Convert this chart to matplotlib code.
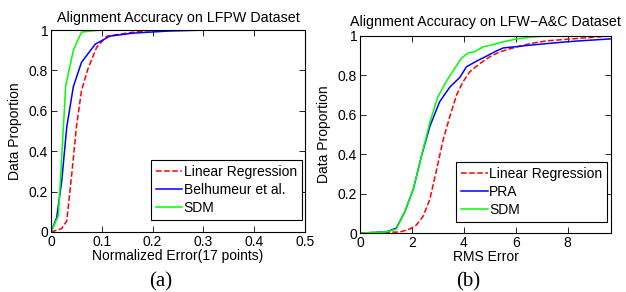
import numpy as np
import matplotlib
matplotlib.use("Agg")
import matplotlib.pyplot as plt

plt.rcParams['font.family'] = ['Liberation Sans', 'DejaVu Sans']
plt.rcParams['font.size'] = 10

# (a) LFPW, normalized error vs proportion
lr_a_x = [0, 0.021, 0.031, 0.041, 0.05, 0.06, 0.073, 0.09, 0.11, 0.149, 0.18, 0.22, 0.5]
lr_a_y = [0, 0.017, 0.055, 0.29, 0.52, 0.70, 0.81, 0.915, 0.97, 0.985, 0.995, 1.0, 1.0]
bel_x = [0, 0.011, 0.021, 0.031, 0.044, 0.06, 0.087, 0.116, 0.162, 0.23, 0.3, 0.5]
bel_y = [0, 0.07, 0.25, 0.52, 0.72, 0.84, 0.93, 0.97, 0.985, 0.995, 1.0, 1.0]
sdm_a_x = [0, 0.0145, 0.029, 0.044, 0.06, 0.097, 0.5]
sdm_a_y = [0, 0.08, 0.725, 0.90, 0.99, 1.0, 1.0]

# (b) LFW-A&C, RMS error vs proportion
lr_b_x = [0, 0.76, 1.53, 1.92, 2.17, 2.43, 2.69, 2.95, 3.2, 3.46, 3.72, 3.97, 4.23,
          4.62, 5.0, 5.39, 5.9, 6.55, 7.19, 8.48, 9.67]
lr_b_y = [0, 0.003, 0.005, 0.02, 0.04, 0.084, 0.17, 0.32, 0.47, 0.59, 0.70, 0.767, 0.818,
          0.86, 0.894, 0.919, 0.939, 0.961, 0.975, 0.988, 1.0]
pra_x = [0, 1.0, 1.4, 1.72, 2.05, 2.37, 2.69, 3.07, 3.46, 3.85, 4.1, 4.49, 4.87, 5.26,
         5.52, 5.9, 6.55, 7.19, 7.96, 8.48, 9.67]
pra_y = [0, 0.005, 0.025, 0.106, 0.22, 0.39, 0.54, 0.666, 0.74, 0.79, 0.843, 0.872, 0.897,
         0.924, 0.939, 0.944, 0.953, 0.961, 0.97, 0.975, 0.985]
sdm_b_x = [0, 1.0, 1.4, 1.72, 2.05, 2.37, 2.69, 3.0, 3.33, 3.65, 3.9, 4.17, 4.42, 4.75,
           5.13, 5.52, 6.03, 6.68, 7.2, 9.67]
sdm_b_y = [0, 0.005, 0.02, 0.106, 0.22, 0.39, 0.56, 0.69, 0.77, 0.835, 0.885, 0.914, 0.92,
           0.945, 0.956, 0.97, 0.985, 0.995, 1.0, 1.0]

fig = plt.figure(figsize=(6.26, 2.92), dpi=100)
ax1 = fig.add_axes([0.0815, 0.2055, 0.4055, 0.6915])
ax2 = fig.add_axes([0.575, 0.202, 0.401, 0.675])

ax1.plot(lr_a_x, lr_a_y, 'r--', lw=1.1, label='Linear Regression')
ax1.plot(bel_x, bel_y, color='#0000ff', lw=1.1, label='Belhumeur et al.')
ax1.plot(sdm_a_x, sdm_a_y, color='#00ff00', lw=1.1, label='SDM')
ax1.set_xlim(0, 0.5)
ax1.set_xticks([0, 0.1, 0.2, 0.3, 0.4, 0.5])
ax1.set_xticklabels(['0', '0.1', '0.2', '0.3', '0.4', '0.5'])
ax1.set_title('Alignment Accuracy on LFPW Dataset', fontsize=10.3, pad=6)
ax1.set_xlabel('Normalized Error(17 points)', labelpad=0)

ax2.plot(lr_b_x, lr_b_y, 'r--', lw=1.1, label='Linear Regression')
ax2.plot(pra_x, pra_y, color='#0000ff', lw=1.1, label='PRA')
ax2.plot(sdm_b_x, sdm_b_y, color='#00ff00', lw=1.1, label='SDM')
ax2.set_xlim(0, 9.67)
ax2.set_xticks([0, 2, 4, 6, 8])
ax2.set_title('Alignment Accuracy on LFW\u2212A&C Dataset', fontsize=10.3, pad=7)
ax2.set_xlabel('RMS Error', labelpad=0)

leg_anchor = {ax1: (0.987, 0.059), ax2: (0.984, 0.056)}
for ax in (ax1, ax2):
    ax.set_ylim(0, 1)
    ax.set_yticks([0, 0.2, 0.4, 0.6, 0.8, 1])
    ax.set_yticklabels(['0', '0.2', '0.4', '0.6', '0.8', '1'])
    ax.set_ylabel('Data Proportion')
    ax.yaxis.set_label_coords(-0.115, 0.5)
    ax.tick_params(direction='in', top=True, right=True, length=4, width=0.6, pad=2)
    for s in ax.spines.values():
        s.set_linewidth(0.8)
    leg = ax.legend(loc='lower right', bbox_to_anchor=leg_anchor[ax], fancybox=False,
                    edgecolor='black', framealpha=1, handlelength=1.9, borderaxespad=0,
                    labelspacing=0.3, handletextpad=0.1, borderpad=0.35)
    leg.get_frame().set_linewidth(0.8)

fig.text(0.256, 0.02, '(a)', family=['Liberation Serif'], fontsize=15, ha='center')
fig.text(0.748, 0.02, '(b)', family=['Liberation Serif'], fontsize=15, ha='center')

fig.savefig('out.png', dpi=100)
